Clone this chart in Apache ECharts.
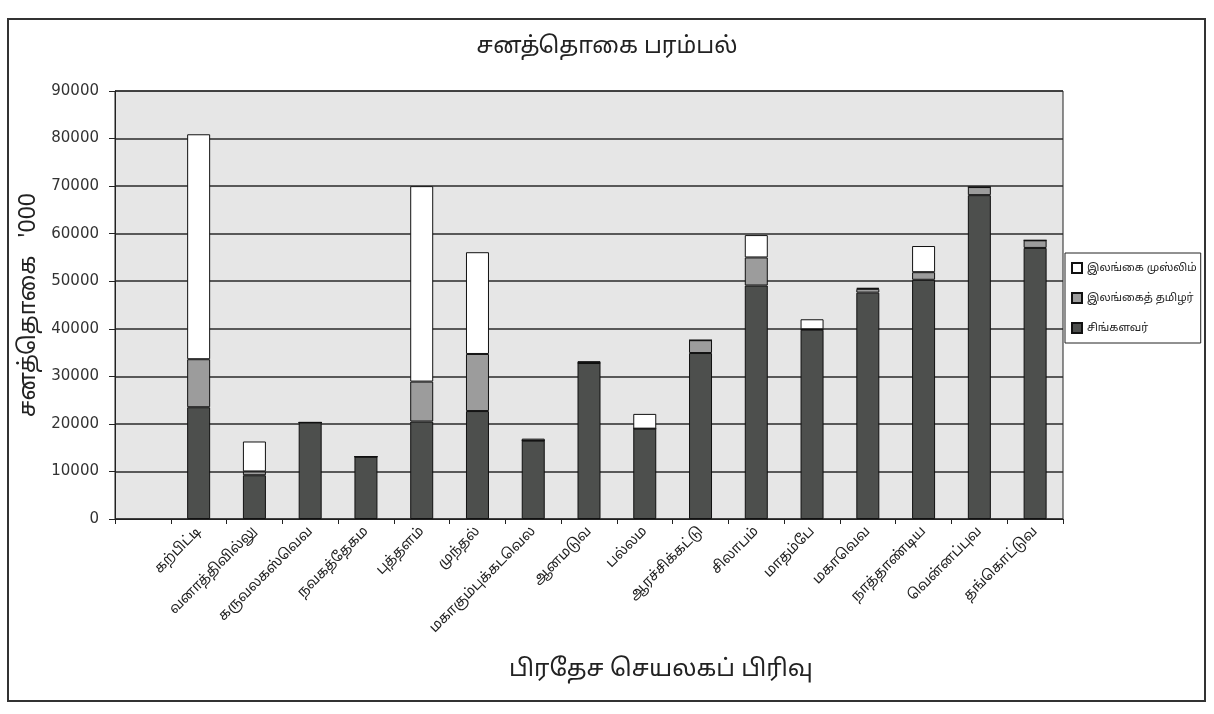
<!DOCTYPE html>
<html>
<head>
<meta charset="utf-8">
<script src="https://cdn.jsdelivr.net/npm/echarts@6/dist/echarts.min.js"></script>
<style>
html,body{margin:0;padding:0;background:#fff;}
#chart{width:1214px;height:714px;}
</style>
</head>
<body>
<div id="chart"></div>
<script>
const categories = ["கற்பிட்டி","வனாத்திவில்லு","கருவலகஸ்வெவ","நவகத்தேகம","புத்தளம்","முந்தல்","மகாகும்புக்கடவெல","ஆனமடுவ","பல்லம","ஆரச்சிக்கட்டு","சிலாபம்","மாதம்பே","மகாவெவ","நாத்தாண்டிய","வென்னப்புவ","தங்கொட்டுவ"];
const sinhala = [23500, 9200, 20300, 13100, 20500, 22700, 16500, 32800, 19000, 34900, 49100, 39800, 47600, 50300, 68100, 57000];
const tamil   = [10100,  800,     0,     0,  8400, 12000,     0,     0,     0,  2700,  5900,   100,   800,  1600,  1700,  1600];
const muslim  = [47300, 6300,     0,     0, 41100, 21400,   400,   400,  3100,     0,  4700,  2100,   200,  5500,     0,     0];
const seriesNames = ["சிங்களவர்","இலங்கைத் தமிழர்","இலங்கை முஸ்லிம்"];
const yTicks = [0,10000,20000,30000,40000,50000,60000,70000,80000,90000];

// the original chart leaves one empty slot before the first division
const axisCats = [''].concat(categories);
const pad = (arr) => [null].concat(arr);

const FONT = "'Noto Sans', 'Noto Sans Tamil', 'Lohit Tamil', 'DejaVu Sans', sans-serif";
const chart = echarts.init(document.getElementById('chart'));
const barStyle = (c) => ({color: c, borderColor: '#111', borderWidth: 1});
chart.setOption({
  backgroundColor: '#fff',
  animation: false,
  textStyle: {fontFamily: FONT},
  graphic: [{
    type: 'rect', shape: {x: 8, y: 19, width: 1197, height: 682},
    style: {fill: 'none', stroke: '#333', lineWidth: 2}, silent: true
  }],
  title: {
    text: 'சனத்தொகை பரம்பல்', left: 'center', top: 30,
    textStyle: {fontSize: 23, fontWeight: 'normal', color: '#222', fontFamily: FONT}
  },
  legend: {
    orient: 'vertical', left: 1065, top: 253,
    data: [seriesNames[2], seriesNames[1], seriesNames[0]],
    itemWidth: 10, itemHeight: 10, itemGap: 18, itemTextGap: 6,
    borderColor: '#222', borderWidth: 1, padding: [9, 4, 9, 6],
    backgroundColor: '#fff',
    textStyle: {fontSize: 11, color: '#222', fontFamily: FONT},
    icon: 'rect'
  },
  grid: {left: 115, right: 151, top: 91, bottom: 195, show: true, backgroundColor: '#e6e6e6', borderColor: '#222', borderWidth: 1},
  xAxis: {
    type: 'category', data: axisCats,
    name: 'பிரதேச செயலகப் பிரிவு', nameLocation: 'middle', nameGap: 138,
    nameTextStyle: {fontSize: 24, color: '#222', fontFamily: FONT, padding: [0, 0, 0, 144]},
    axisLine: {lineStyle: {color: '#222', width: 1}},
    axisTick: {show: true, length: 5, lineStyle: {color: '#222'}},
    axisLabel: {rotate: 45, fontSize: 14, color: '#222', margin: 10, interval: 0, fontFamily: FONT}
  },
  yAxis: {
    type: 'value', min: 0, max: 90000, interval: 10000,
    name: "சனத்தொகை   '000", nameLocation: 'middle', nameGap: 70,
    nameTextStyle: {fontSize: 23, color: '#222', fontFamily: FONT},
    axisLine: {show: true, lineStyle: {color: '#222'}},
    axisTick: {show: true, length: 6, lineStyle: {color: '#222'}},
    axisLabel: {fontSize: 15, color: '#333', margin: 16, fontFamily: "'DejaVu Sans', sans-serif",
      formatter: (v) => yTicks.includes(v) ? String(v) : ''},
    splitLine: {show: true, lineStyle: {color: '#2a2a2a', width: 1.5}}
  },
  series: [
    {name: seriesNames[0], type: 'bar', stack: 'p', data: pad(sinhala), barWidth: 23, itemStyle: barStyle('#4d4f4d')},
    {name: seriesNames[1], type: 'bar', stack: 'p', data: pad(tamil), barWidth: 23, itemStyle: barStyle('#9c9c9c')},
    {name: seriesNames[2], type: 'bar', stack: 'p', data: pad(muslim), barWidth: 23, itemStyle: barStyle('#ffffff')}
  ]
});
</script>
</body>
</html>
